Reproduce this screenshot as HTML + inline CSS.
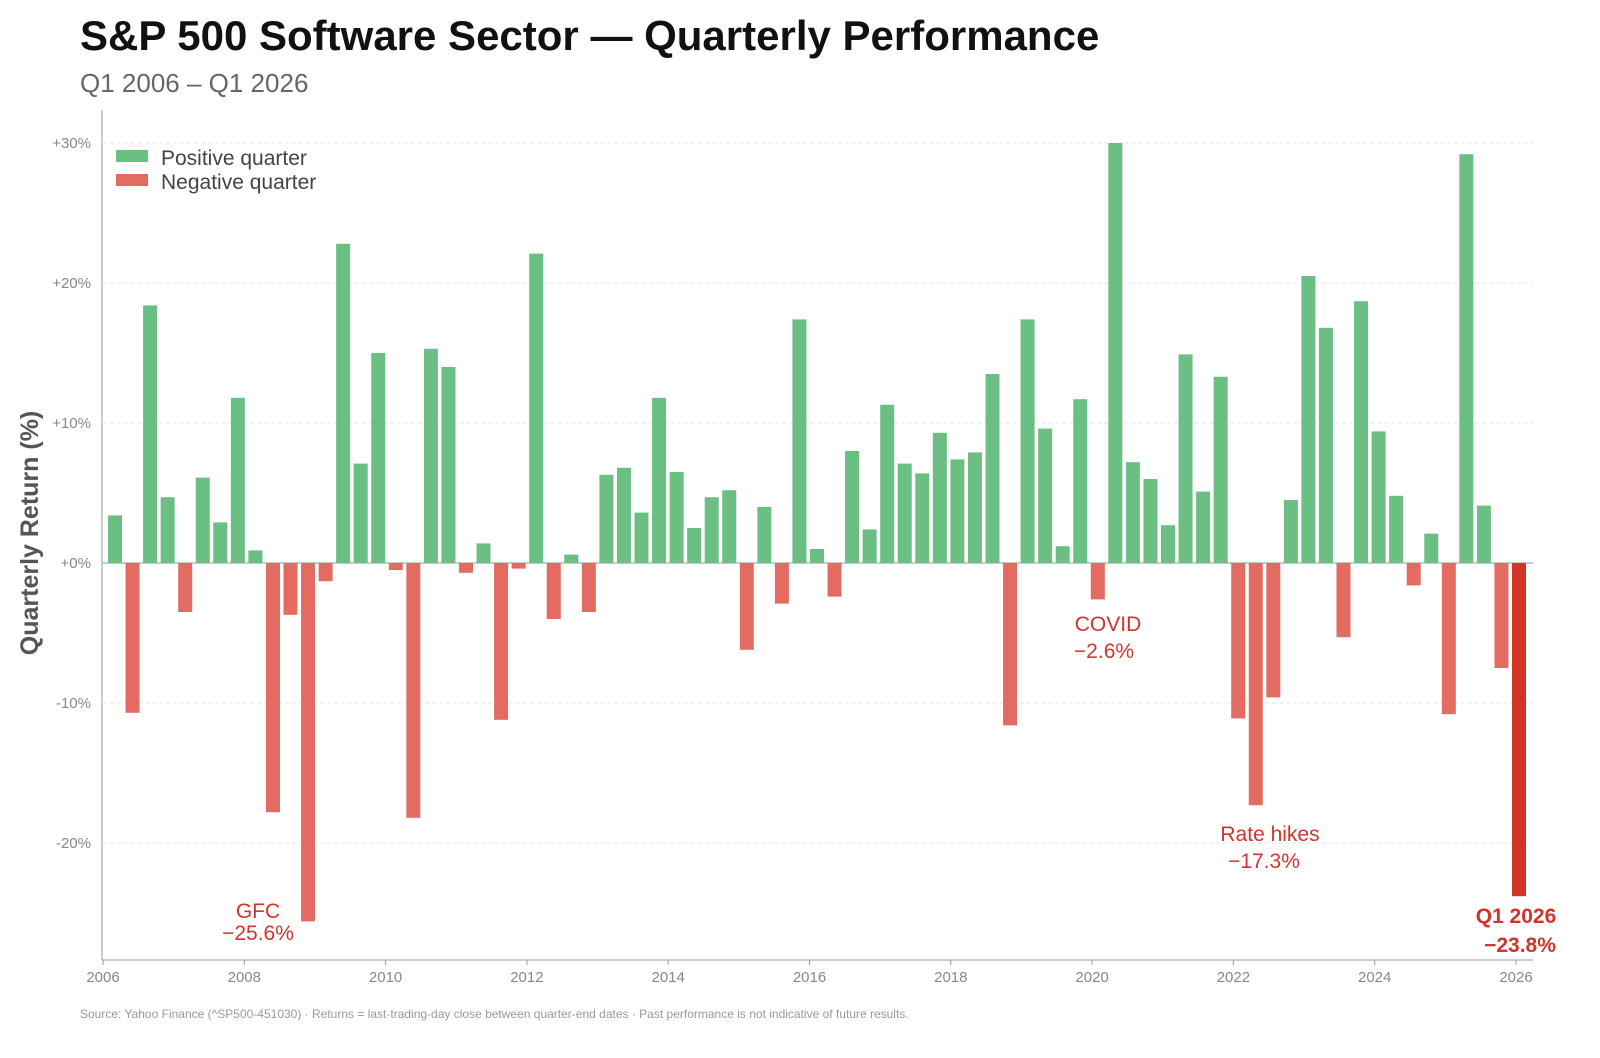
<!DOCTYPE html>
<html><head><meta charset="utf-8"><style>
body{margin:0;background:#fff;font-family:"Liberation Sans",sans-serif;}
svg text{font-family:"Liberation Sans",sans-serif;}
</style></head><body>
<svg id="chart" width="1600" height="1053" viewBox="0 0 1600 1053">
<text x="80" y="50" font-size="42" font-weight="bold" fill="#111">S&amp;P 500 Software Sector — Quarterly Performance</text>
<text x="80" y="92" font-size="26" fill="#666">Q1 2006 – Q1 2026</text>
<g id="grid"></g><g id="bars"></g><g id="axes"></g>
<text transform="translate(38,533) rotate(-90)" text-anchor="middle" font-size="25" font-weight="bold" fill="#555">Quarterly Return (%)</text>
<g>
<rect x="116" y="150" width="32" height="12" fill="#6cbf82"/>
<text x="161" y="165" font-size="21" fill="#444">Positive quarter</text>
<rect x="116" y="174" width="32" height="12" fill="#e36b62"/>
<text x="161" y="189" font-size="21" fill="#444">Negative quarter</text>
</g>
<g font-size="21" fill="#d0352a" text-anchor="middle">
<text x="258" y="918">GFC</text>
<text x="258" y="940">−25.6%</text>
<text x="1108" y="631">COVID</text>
<text x="1104" y="658">−2.6%</text>
<text x="1270" y="841">Rate hikes</text>
<text x="1264" y="868">−17.3%</text>
<text x="1516" y="923" font-weight="bold">Q1 2026</text>
<text x="1520" y="952" font-weight="bold">−23.8%</text>
</g>
<text x="80" y="1018" font-size="12" fill="#999">Source: Yahoo Finance (^SP500-451030) · Returns = last-trading-day close between quarter-end dates · Past performance is not indicative of future results.</text>
</svg>
<script>
const values=[3.4,-10.7,18.4,4.7,-3.5,6.1,2.9,11.8,0.9,-17.8,-3.7,-25.6,-1.3,22.8,7.1,15.0,-0.5,-18.2,15.3,14.0,-0.7,1.4,-11.2,-0.4,22.1,-4.0,0.6,-3.5,6.3,6.8,3.6,11.8,6.5,2.5,4.7,5.2,-6.2,4.0,-2.9,17.4,1.0,-2.4,8.0,2.4,11.3,7.1,6.4,9.3,7.4,7.9,13.5,-11.6,17.4,9.6,1.2,11.7,-2.6,30.0,7.2,6.0,2.7,14.9,5.1,13.3,-11.1,-17.3,-9.6,4.5,20.5,16.8,-5.3,18.7,9.4,4.8,-1.6,2.1,-10.8,29.2,4.1,-7.5,-23.8];
const yTicks=[30,20,10,0,-10,-20];
const yTickLabels=["+30%","+20%","+10%","+0%","-10%","-20%"];
const xYears=[2006,2008,2010,2012,2014,2016,2018,2020,2022,2024,2026];
const NS="http://www.w3.org/2000/svg";
const y=v=>563-v*14;
const xYear=t=>103+(t-2006)*70.65;
const xBar=i=>115+i*17.55;
function mk(tag,attrs,parent,txt){const e=document.createElementNS(NS,tag);for(const k in attrs)e.setAttribute(k,attrs[k]);if(txt!==undefined)e.textContent=txt;document.getElementById(parent).appendChild(e);return e;}
yTicks.forEach((t,i)=>{
 const g=mk('line',{x1:103,x2:1533,y1:y(t),y2:y(t),stroke:t===0?'#999':'#e6e6e6','stroke-dasharray':t===0?'':'4 3','stroke-width':1},'grid');
 
 
 const l=mk('text',{x:91,y:y(t)+5,'text-anchor':'end','font-size':15,fill:'#888'},'axes',yTickLabels[i]);
 
 
});
values.forEach((v,i)=>{
 const last=i===values.length-1;
 const r=mk('rect',{x:xBar(i)-7,y:Math.min(y(v),y(0)),width:14,height:Math.abs(y(v)-y(0)),fill:last?'#d63327':(v>=0?'#6cbf82':'#e36b62')},'bars');
 
 
});
const a1=mk('line',{x1:102,x2:102,y1:110,y2:960,stroke:'#999'},'axes');


const a2=mk('line',{x1:102,x2:1533,y1:960,y2:960,stroke:'#999'},'axes');


xYears.forEach(yr=>{
 const t=mk('line',{x1:xYear(yr),x2:xYear(yr),y1:960,y2:965,stroke:'#999'},'axes');
 
 
 const l=mk('text',{x:xYear(yr),y:982,'text-anchor':'middle','font-size':15,fill:'#888'},'axes',String(yr));
 
 
});
</script>
</body></html>
